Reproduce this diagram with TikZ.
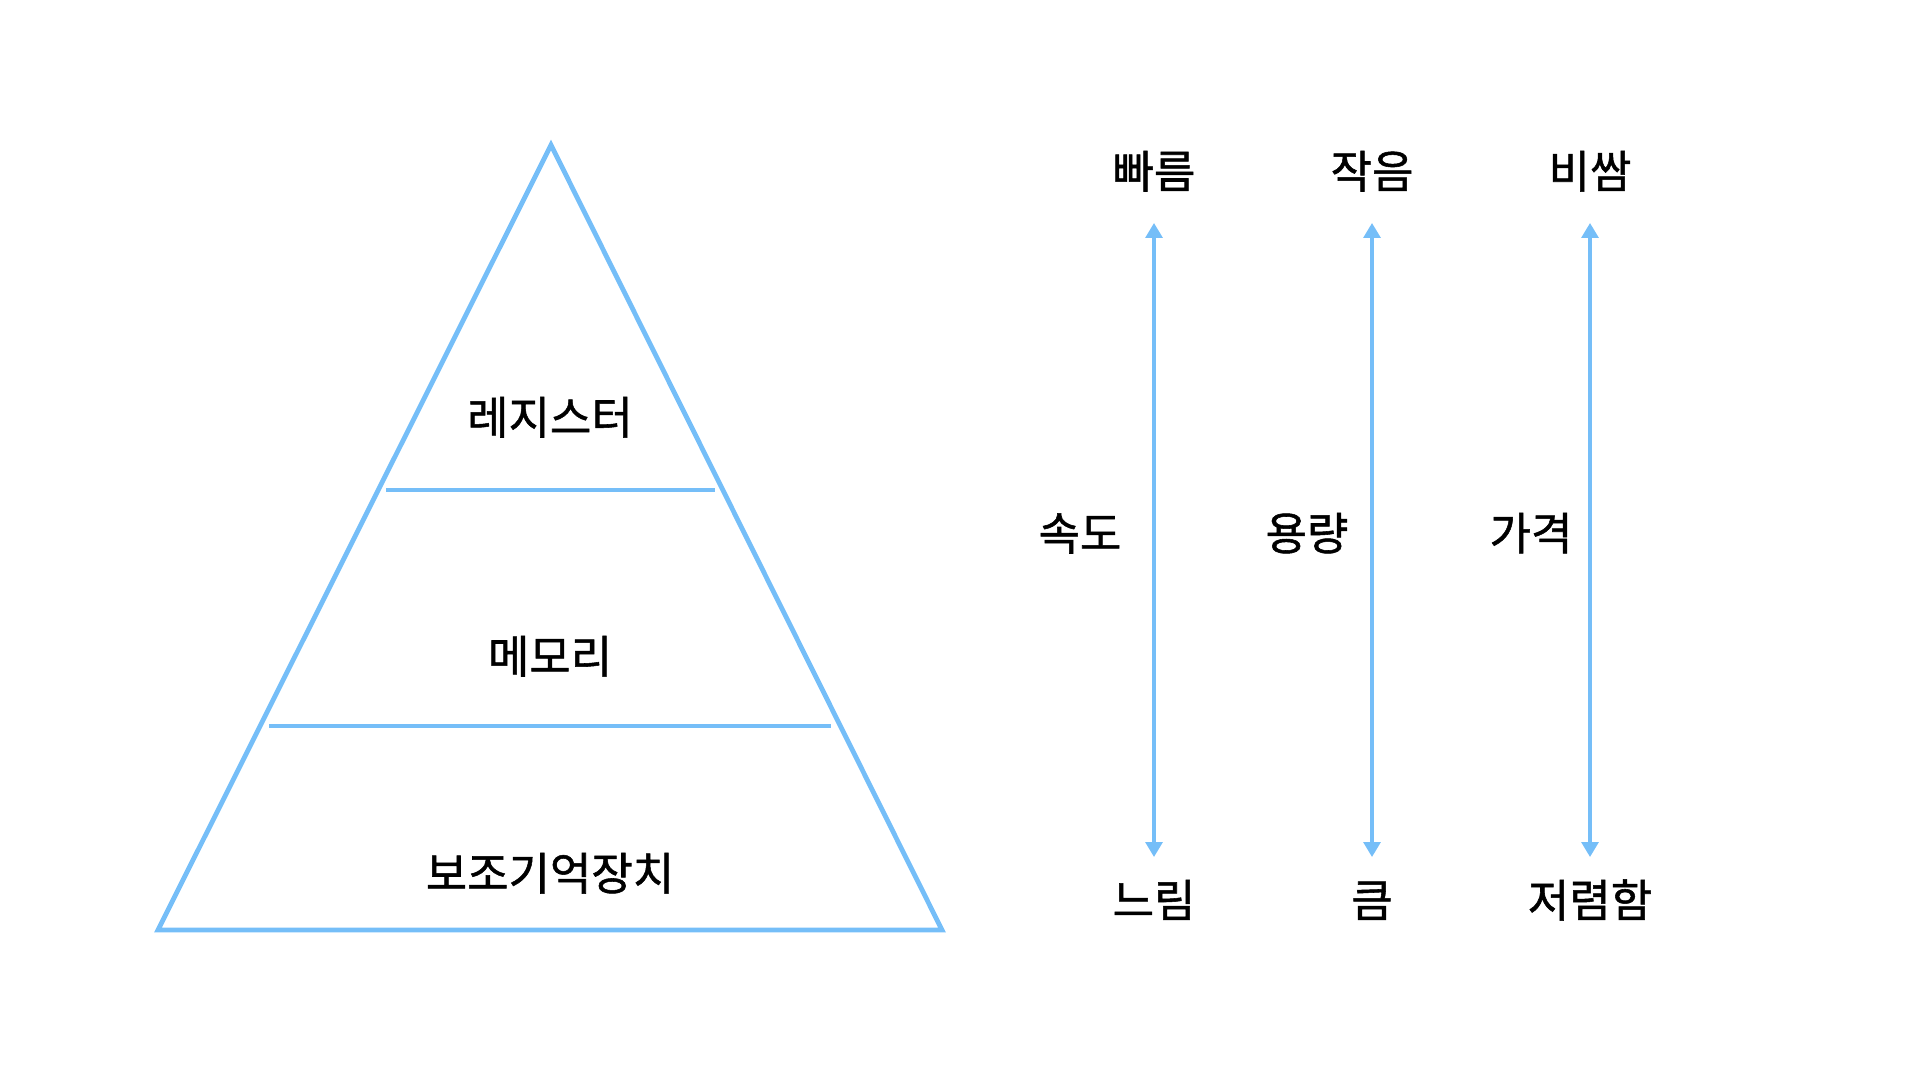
\documentclass[tikz,border=0pt]{standalone}
\usepackage{fontspec}
\usepackage{tikz}
\usetikzlibrary{arrows.meta}
\newfontfamily\kor{Noto Sans CJK KR}[FakeBold=1.2]
\definecolor{pyrblue}{RGB}{117,190,248}
\tikzset{
	lbl/.style={font=\kor\fontsize{22.5}{27}\selectfont, inner sep=0pt, text height=0.8em, text depth=0.1em},
	edge/.style={line width=2.4pt, color=pyrblue, line join=miter},
	layer/.style={line width=1.8pt, color=pyrblue},
	biarrow/.style={line width=1.6pt, color=pyrblue, {Triangle[width=8.5pt,length=7.5pt]}-{Triangle[width=8.5pt,length=7.5pt]}, shorten <=21pt, shorten >=26.5pt}
}

\begin{document}
\begin{tikzpicture}[x=0.5pt, y=-0.5pt]
		%%%%% START %%%%%
		\useasboundingbox (0, 0) rectangle (1920, 1080);
		
		% pyramid
		\coordinate (top) at (551, 145);
		\coordinate (bl) at (158, 930);
		\coordinate (br) at (942, 930);
		\draw[edge] (top) -- (bl) -- (br) -- cycle;
		
		\coordinate (l1a) at (386, 490);
		\coordinate (l1b) at (715, 490);
		\coordinate (l2a) at (269, 726);
		\coordinate (l2b) at (831, 726);
		\draw[layer] (l1a) -- (l1b);
		\draw[layer] (l2a) -- (l2b);
		
		\node[lbl] (reg) at (550, 427) {레지스터};
		\node[lbl] (mem) at (550, 666) {메모리};
		\node[lbl] (aux) at (550, 883) {보조기억장치};
		
		% speed
		\node[lbl] (fast) at (1154, 181) {빠름};
		\node[lbl] (slow) at (1154, 910) {느림};
		\node[lbl] (speed) at (1080, 543) {속도};
		\draw[biarrow] (fast.center) -- (slow.center);
		
		% capacity
		\node[lbl] (small) at (1372, 181) {작음};
		\node[lbl] (large) at (1372, 910) {큼};
		\node[lbl] (cap) at (1307, 543) {용량};
		\draw[biarrow] (small.center) -- (large.center);
		
		% price
		\node[lbl] (dear) at (1590, 181) {비쌈};
		\node[lbl] (cheap) at (1590, 910) {저렴함};
		\node[lbl] (price) at (1531, 543) {가격};
		\draw[biarrow] (dear.center) -- (cheap.center);
		
		%%%%% END %%%%%
	\end{tikzpicture}
\end{document}
